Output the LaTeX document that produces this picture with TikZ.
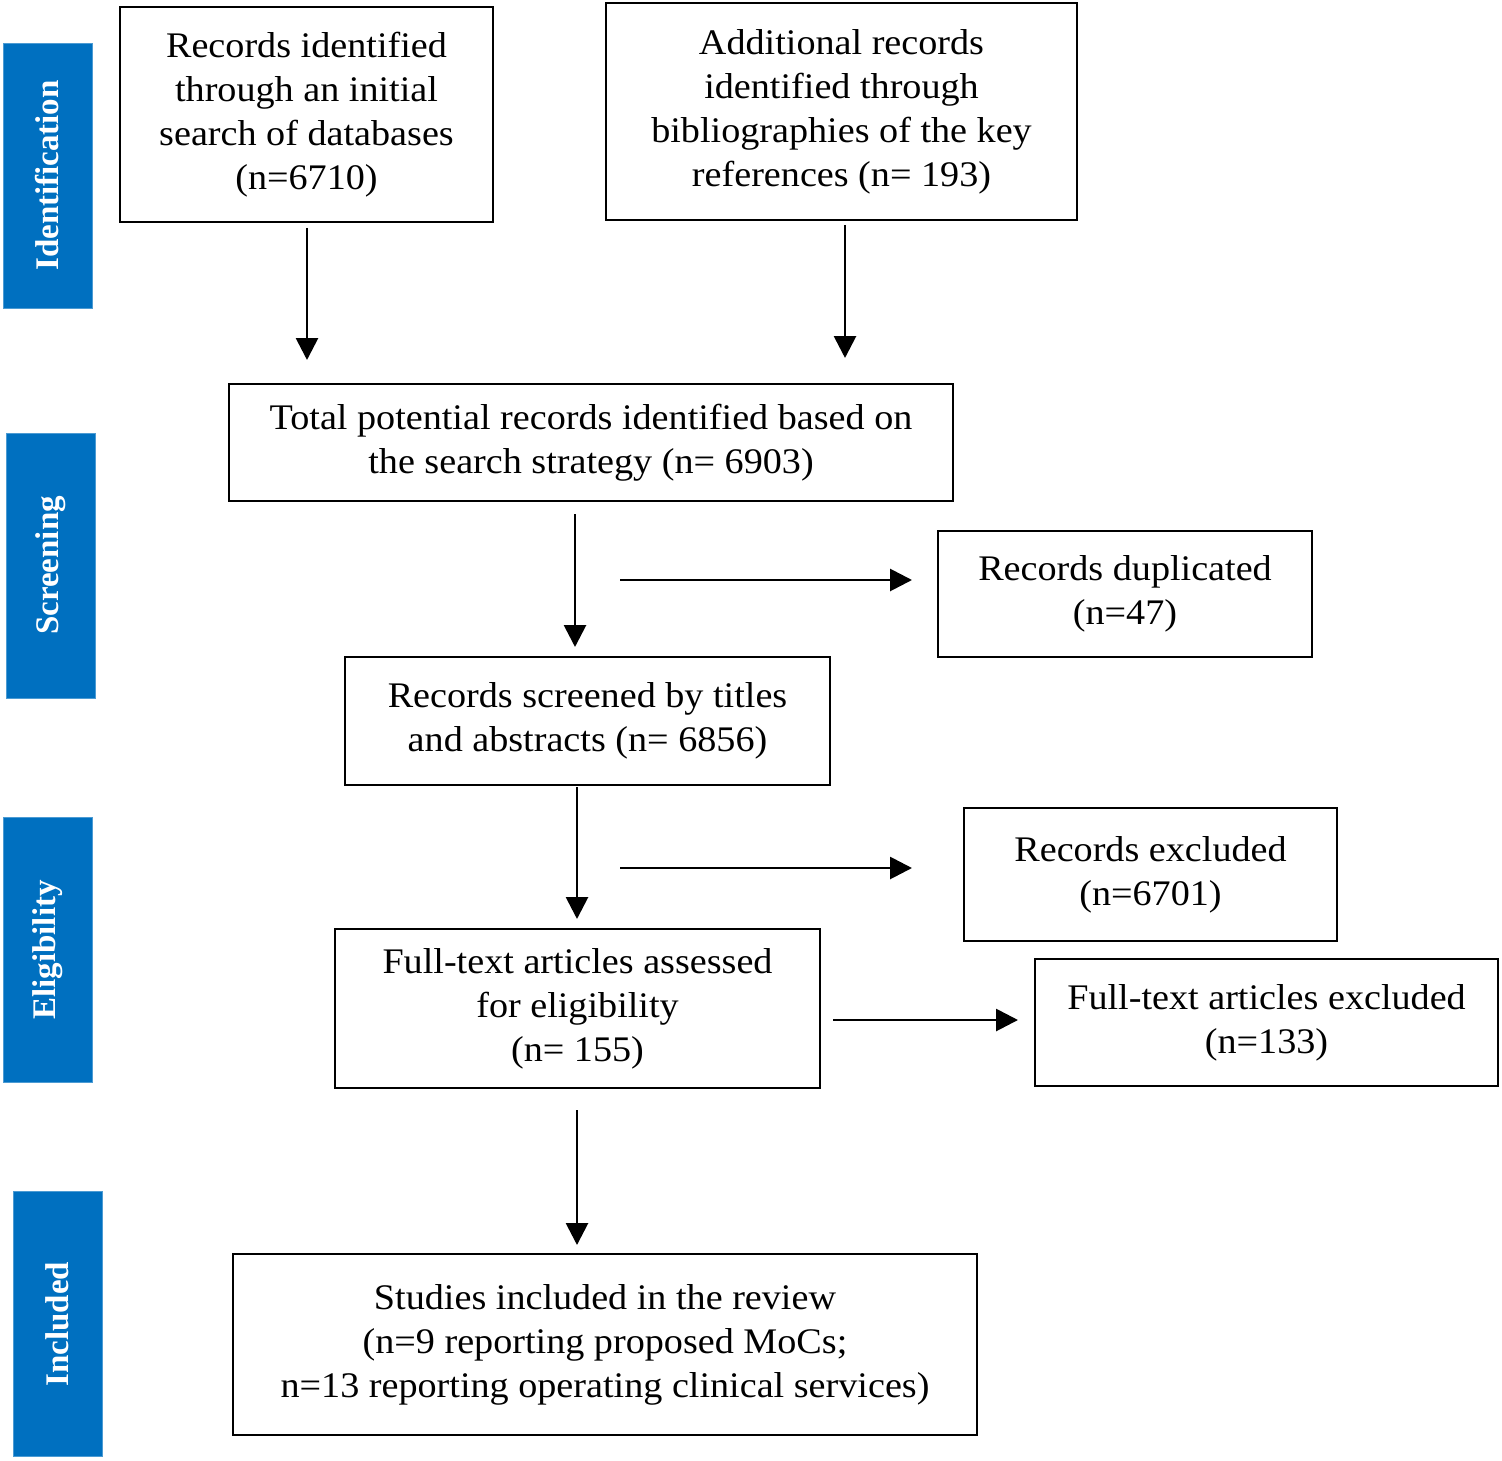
\documentclass[tikz,border=0pt]{standalone}
\usepackage{fontspec}
\setmainfont{Liberation Serif}
\newfontfamily\boxfont[FakeStretch=1.06]{Liberation Serif}
\usetikzlibrary{arrows.meta}
\definecolor{barblue}{HTML}{0070C0}
\begin{document}
\begin{tikzpicture}[x=0.5pt,y=-0.5pt,
  box/.style={draw=black,line width=1.25pt,align=center,inner sep=0pt,
    font=\boxfont\fontsize{18}{22}\selectfont},
  bar/.style={fill=barblue,draw=barblue!70!white,line width=0.4pt,rotate=90,
    minimum width=132.5pt,minimum height=44.5pt,inner sep=0pt,
    text=white,font=\fontsize{16.5}{18}\selectfont\bfseries},
  arr/.style={line width=1.4pt,-{Triangle[length=11pt,width=11pt]}}]
\useasboundingbox (0,0) rectangle (1502,1460);
% side bars
\node[bar] (idb) at (47.5,175.5) {Identification};
\node[bar] (scb) at (50.5,565.5) {Screening};
\node[bar] (elb) at (47.5,950) {Eligibility};
\node[bar] (inb) at (57.5,1324) {Included};
% boxes
\node[box,minimum width=186.5pt,minimum height=107.5pt] (A) at (306.5,114.5)
  {Records identified\\through an initial\\search of databases\\(n=6710)};
\node[box,minimum width=235.5pt,minimum height=108.5pt] (B) at (841.5,111.5)
  {Additional records\\identified through\\bibliographies of the key\\references (n= 193)};
\node[box,minimum width=362pt,minimum height=58.5pt] (C) at (591,442.5)
  {Total potential records identified based on\\the search strategy (n= 6903)};
\node[box,minimum width=187pt,minimum height=63pt] (D) at (1125,594)
  {Records duplicated\\(n=47)};
\node[box,minimum width=242.5pt,minimum height=64pt] (E) at (587.5,721)
  {Records screened by titles\\and abstracts (n= 6856)};
\node[box,minimum width=186.5pt,minimum height=66.5pt] (F) at (1150.5,874.5)
  {Records excluded\\(n=6701)};
\node[box,minimum width=242.5pt,minimum height=79.5pt] (G) at (577.5,1008.5)
  {Full-text articles assessed\\for eligibility\\(n= 155)};
\node[box,minimum width=231.5pt,minimum height=63.5pt] (H) at (1266.5,1022.5)
  {Full-text articles excluded\\(n=133)};
\node[box,minimum width=372pt,minimum height=90.5pt] (I) at (605,1344.5)
  {Studies included in the review\\(n=9 reporting proposed MoCs;\\n=13 reporting operating clinical services)};
% arrow end points
\coordinate (a1) at (307,228); \coordinate (a2) at (307,360);
\coordinate (b1) at (845,225); \coordinate (b2) at (845,358);
\coordinate (c1) at (575,514); \coordinate (c2) at (575,647);
\coordinate (d1) at (620,580); \coordinate (d2) at (912,580);
\coordinate (e1) at (577,787); \coordinate (e2) at (577,919);
\coordinate (f1) at (620,868); \coordinate (f2) at (912,868);
\coordinate (g1) at (833,1020); \coordinate (g2) at (1018,1020);
\coordinate (h1) at (577,1110); \coordinate (h2) at (577,1245);
\draw[arr] (a1) -- (a2);
\draw[arr] (b1) -- (b2);
\draw[arr] (c1) -- (c2);
\draw[arr] (d1) -- (d2);
\draw[arr] (e1) -- (e2);
\draw[arr] (f1) -- (f2);
\draw[arr] (g1) -- (g2);
\draw[arr] (h1) -- (h2);
\end{tikzpicture}
\end{document}
